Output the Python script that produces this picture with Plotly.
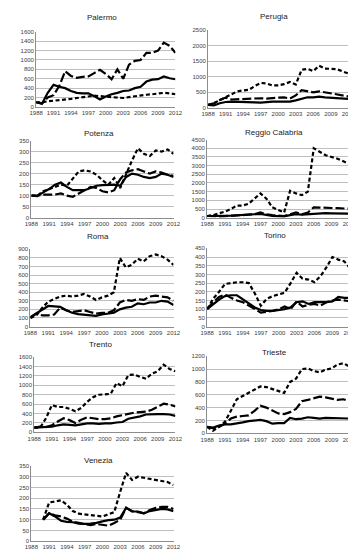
import plotly.graph_objects as go

years = list(range(1988, 2013))
years_ven = list(range(1990, 2013))

# ---- data: solid, long-dash, short-dash series per city ----
palermo_solid = [100, 70, 300, 470, 430, 400, 340, 300, 290, 290, 230, 160, 220, 270, 300, 340, 350, 400, 430, 540, 580, 590, 650, 610, 590]
palermo_long = [100, 70, 200, 250, 450, 760, 660, 620, 640, 650, 720, 790, 700, 590, 800, 600, 900, 980, 1000, 1150, 1150, 1200, 1370, 1300, 1150]
palermo_short = [100, 100, 120, 130, 140, 160, 170, 190, 210, 230, 240, 230, 220, 215, 210, 190, 210, 230, 250, 260, 270, 290, 300, 290, 270]

perugia_solid = [100, 80, 150, 190, 200, 200, 200, 200, 180, 170, 190, 200, 200, 190, 200, 240, 300, 340, 340, 360, 340, 330, 320, 310, 290]
perugia_long = [100, 150, 250, 330, 270, 280, 300, 300, 310, 310, 300, 310, 320, 340, 300, 400, 570, 530, 500, 530, 500, 470, 450, 400, 370]
perugia_short = [100, 150, 250, 350, 450, 530, 560, 580, 700, 800, 780, 720, 720, 760, 830, 750, 1220, 1250, 1180, 1350, 1260, 1250, 1240, 1170, 1100]

potenza_solid = [100, 98, 115, 130, 150, 160, 140, 125, 125, 125, 135, 145, 148, 150, 150, 145, 185, 200, 195, 185, 180, 185, 200, 195, 185]
potenza_long = [100, 100, 105, 105, 105, 110, 100, 95, 110, 125, 140, 135, 120, 115, 125, 175, 205, 215, 220, 210, 200, 210, 205, 195, 190]
potenza_short = [100, 100, 120, 130, 140, 150, 145, 175, 210, 215, 210, 195, 170, 150, 180, 135, 200, 260, 315, 290, 280, 305, 300, 310, 290]

reggio_solid = [100, 90, 100, 110, 120, 130, 150, 180, 200, 220, 150, 100, 90, 80, 150, 200, 180, 200, 250, 260, 260, 250, 250, 240, 230]
reggio_long = [100, 80, 80, 90, 100, 120, 150, 180, 200, 300, 200, 150, 120, 100, 200, 300, 200, 300, 600, 600, 580, 560, 550, 550, 520]
reggio_short = [100, 150, 250, 350, 500, 700, 700, 800, 1100, 1400, 1100, 600, 450, 300, 1550, 1400, 1300, 1500, 4000, 3800, 3600, 3500, 3400, 3250, 3100]

roma_solid = [110, 150, 200, 240, 235, 230, 190, 160, 145, 140, 130, 125, 140, 150, 160, 200, 220, 230, 270, 260, 280, 280, 300, 290, 250]
roma_long = [100, 150, 130, 130, 140, 220, 190, 170, 180, 190, 170, 150, 160, 160, 190, 280, 310, 300, 320, 310, 350, 360, 350, 340, 300]
roma_short = [100, 130, 220, 290, 320, 350, 360, 350, 360, 380, 350, 310, 340, 360, 400, 800, 690, 720, 790, 760, 820, 840, 820, 780, 720]

torino_solid = [100, 130, 155, 175, 180, 180, 155, 130, 110, 95, 90, 90, 95, 100, 110, 140, 145, 130, 140, 140, 140, 145, 170, 165, 165]
torino_long = [100, 140, 170, 185, 165, 150, 140, 120, 100, 80, 85, 90, 100, 115, 100, 145, 115, 125, 130, 120, 140, 150, 155, 150, 145]
torino_short = [100, 160, 200, 245, 250, 255, 255, 250, 190, 120, 160, 175, 185, 195, 250, 310, 275, 270, 255, 290, 340, 400, 385, 375, 335]

trento_solid = [100, 110, 110, 120, 150, 170, 160, 150, 170, 190, 190, 180, 190, 190, 210, 220, 290, 310, 340, 380, 390, 390, 390, 380, 350]
trento_long = [100, 120, 110, 150, 230, 300, 260, 200, 270, 320, 300, 280, 280, 300, 340, 370, 400, 420, 430, 440, 480, 550, 610, 590, 550]
trento_short = [100, 100, 300, 580, 540, 540, 500, 450, 520, 650, 750, 800, 810, 820, 1050, 980, 1220, 1230, 1180, 1140, 1250, 1300, 1440, 1350, 1300]

trieste_solid = [100, 90, 120, 140, 140, 150, 170, 190, 200, 210, 190, 150, 160, 160, 240, 220, 230, 250, 240, 230, 240, 240, 240, 240, 230]
trieste_long = [100, 80, 100, 150, 230, 260, 270, 280, 350, 430, 400, 360, 310, 300, 330, 380, 500, 520, 550, 570, 560, 540, 520, 530, 500]
trieste_short = [100, 40, 100, 180, 350, 530, 580, 630, 680, 730, 720, 690, 660, 630, 800, 850, 1000, 1010, 970, 950, 990, 1010, 1070, 1090, 1040]

venezia_solid = [100, 130, 115, 95, 90, 88, 82, 80, 82, 85, 92, 98, 100, 110, 155, 138, 138, 130, 140, 145, 150, 148, 140]
venezia_long = [100, 130, 120, 115, 105, 90, 85, 80, 75, 80, 75, 72, 85, 100, 155, 140, 135, 130, 145, 155, 160, 160, 150]
venezia_short = [100, 180, 185, 190, 170, 140, 128, 125, 120, 118, 115, 125, 135, 230, 318, 285, 300, 295, 290, 283, 278, 275, 262]

x_ticks = [1988, 1991, 1994, 1997, 2000, 2003, 2006, 2009, 2012]

panels = [
    # name, x-values, solid, long, short, ymax, dtick, (left, right, top, bottom) px, title y px
    ("Palermo", years, palermo_solid, palermo_long, palermo_short, 1600, 200, (22, 167, 21, 97), 7),
    ("Perugia", years, perugia_solid, perugia_long, perugia_short, 2500, 500, (201, 347, 19, 98), 6),
    ("Potenza", years, potenza_solid, potenza_long, potenza_short, 350, 50, (17, 165, 131, 209), 124),
    ("Reggio Calabria", years, reggio_solid, reggio_long, reggio_short, 4500, 500, (200, 348, 130, 209), 123),
    ("Roma", years, roma_solid, roma_long, roma_short, 900, 100, (16, 165, 241, 319), 228),
    ("Torino", years, torino_solid, torino_long, torino_short, 450, 50, (200, 349, 240, 319), 227),
    ("Trento", years, trento_solid, trento_long, trento_short, 1600, 200, (20, 167, 350, 426), 337),
    ("Trieste", years, trieste_solid, trieste_long, trieste_short, 1200, 200, (200, 348, 349, 427), 345),
    ("Venezia", years_ven, venezia_solid, venezia_long, venezia_short, 350, 50, (17, 165, 460, 536), 454),
]

W, H = 356, 550
fig = go.Figure()
layout = dict(
    width=W, height=H, margin=dict(l=0, r=0, t=0, b=0),
    paper_bgcolor="white", plot_bgcolor="white", showlegend=False,
    font=dict(family="Liberation Sans, Arial, sans-serif", color="#404040"),
)
annotations = []
line_styles = [("solid", 2.2), ("9px,3px", 2.2), ("4px,2.5px", 2.2)]

for i, (name, xs, s, l, d, ymax, dt, (x0, x1, y0, y1), ty) in enumerate(panels):
    k = "" if i == 0 else str(i + 1)
    for vals, (dash, w) in zip([s, l, d], line_styles):
        fig.add_trace(go.Scatter(x=xs, y=vals, mode="lines",
                                 line=dict(color="black", width=w, dash=dash),
                                 xaxis="x" + k, yaxis="y" + k, hoverinfo="skip"))
    layout["xaxis" + k] = dict(
        domain=[x0 / W, x1 / W], anchor="y" + k, range=[1988, 2012],
        tickmode="array", tickvals=x_ticks, ticktext=[str(t) for t in x_ticks],
        showgrid=False, showline=True, linecolor="#8c8c8c", linewidth=1,
        ticks="", ticklabelstandoff=0,
        tickfont=dict(size=6, color="#404040"), zeroline=False, fixedrange=True,
    )
    layout["yaxis" + k] = dict(
        domain=[1 - y1 / H, 1 - y0 / H], anchor="x" + k, range=[0, ymax],
        dtick=dt, tick0=0, showgrid=True, gridcolor="#bfbfbf", gridwidth=1,
        showline=True, linecolor="#8c8c8c", linewidth=1, zeroline=False,
        ticks="", tickfont=dict(size=6, color="#404040"), fixedrange=True,
    )
    annotations.append(dict(
        text=name, x=((x0 + x1) / 2 - 4) / W, y=1 - ty / H, xref="paper", yref="paper",
        showarrow=False, xanchor="center", yanchor="middle",
        font=dict(size=8, color="#222222"),
    ))

layout["annotations"] = annotations
fig.update_layout(**layout)
fig.write_html("out.html")
